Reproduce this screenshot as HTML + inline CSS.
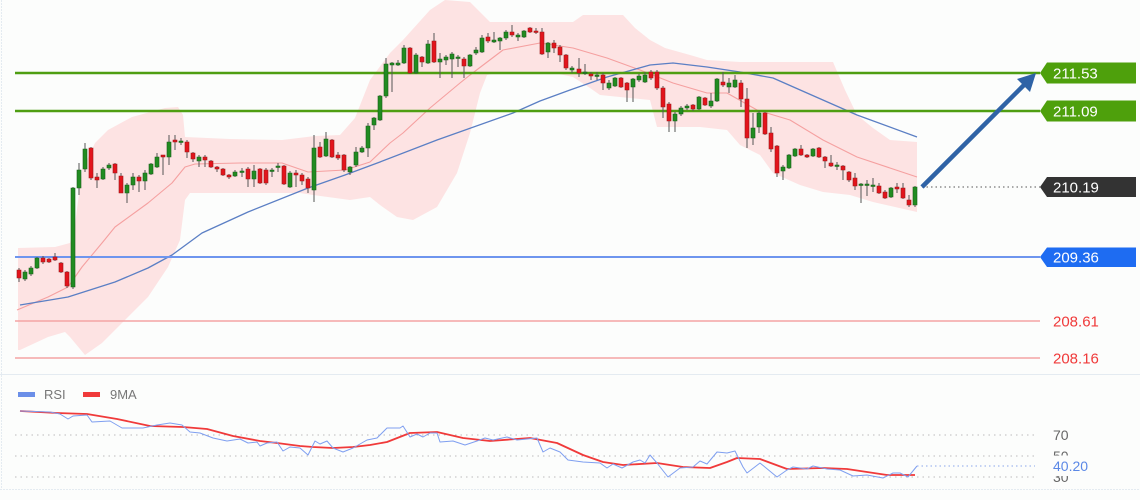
<!DOCTYPE html>
<html><head><meta charset="utf-8"><style>
html,body{margin:0;padding:0;background:#fcfdfc;}
svg{display:block;font-family:"Liberation Sans",sans-serif;}
</style></head><body>
<svg width="1140" height="500" viewBox="0 0 1140 500" xmlns="http://www.w3.org/2000/svg">
<rect width="1140" height="500" fill="#fcfdfc"/>
<line x1="1.5" y1="0" x2="1.5" y2="489" stroke="#e4ebf1" stroke-width="1" stroke-dasharray="2 1"/>
<line x1="0" y1="374.5" x2="1140" y2="374.5" stroke="#e4ebf1" stroke-width="1"/>
<line x1="0" y1="489.5" x2="1140" y2="489.5" stroke="#e4ebf1" stroke-width="1" stroke-dasharray="2 1"/>

<!-- Bollinger band -->
<polygon fill="#fde3e3" points="18,248 55,247 70,243 75,225 82,170 95,143 108,130 132,117 165,108 178,107 183,115 185,137 230,139 282,140 315,136 340,135 355,118 370,80 390,53 403,40 430,10 445,0 470,2 490,22 573,22 583,15 623,15 635,28 650,40 665,48 690,55 707,60 740,62 833,62 845,90 857,115 873,128 890,140 917,142 917,212 873,202 850,195 823,192 800,185 773,173 760,155 740,145 727,130 700,127 657,127 650,100 600,95 590,88 573,77 550,72 500,72 487,75 480,93 470,133 457,173 437,207 413,220 397,217 380,205 370,197 350,200 313,195 300,193 190,193 185,200 180,240 168,267 148,297 125,320 102,343 85,355 70,337 65,332 48,337 20,350 18,350"/>

<!-- moving averages -->
<polyline fill="none" stroke="#f5a0a0" stroke-width="1.1" stroke-linejoin="round" points="17,310 48,297 68,287 82,267 102,243 115,227 148,203 172,183 185,167 195,164 240,163 282,163 308,172 345,170 370,162 390,143 403,133 430,108 460,83 470,75 503,50 540,43 573,48 607,58 640,70 673,83 707,93 727,93 757,110 790,120 823,140 857,157 917,177"/>
<polyline fill="none" stroke="#5b7fc4" stroke-width="1.3" stroke-linejoin="round" points="20,305 68,297 115,282 148,268 172,255 202,233 248,212 308,188 345,175 380,162 437,140 513,113 540,101 570,90 607,77 650,65 673,63 707,67 740,72 773,78 807,93 857,115 917,137"/>

<!-- level lines -->
<line x1="15" y1="73" x2="1040" y2="73" stroke="#4f9e12" stroke-width="2.5"/>
<line x1="15" y1="111" x2="1040" y2="111" stroke="#4f9e12" stroke-width="2.5"/>
<line x1="15" y1="257" x2="1040" y2="257" stroke="#6e95ee" stroke-width="2"/>
<line x1="15" y1="321" x2="1040" y2="321" stroke="#f4a4a4" stroke-width="1.5"/>
<line x1="15" y1="358" x2="1040" y2="358" stroke="#f4a4a4" stroke-width="1.5"/>
<line x1="922" y1="187" x2="1040" y2="187" stroke="#777" stroke-width="1.2" stroke-dasharray="1.5 3"/>

<!-- candles -->
<path fill="none" stroke="#555" stroke-width="1" d="M19 268V282M25 270V281M31 266V276M37 257V269M43 256V264M49 258V263M55 253V261M61 262V273M67 271V288M73 187V289M79 163V195M85 143V172M91 147V180M97 173V188M103 167V180M109 163V170M115 163V180M121 173V193M127 183V203M133 173V190M139 175V192M145 170V190M151 163V175M157 153V168M163 155V175M169 135V165M175 135V150M181 138V145M187 140V158M193 152V162M199 155V167M205 155V167M211 160V168M217 166V172M223 168V176M229 174V179M235 170V177M242 168V177M248 167V187M254 165V187M260 168V184M266 168V185M272 168V177M278 163V172M284 165V185M290 171V188M296 170V187M302 173V185M308 177V193M314 135V202M320 142V158M326 132V157M332 139V158M338 152V160M344 154V172M350 166V175M356 147V167M362 146V153M368 123V157M374 117V130M380 95V121M386 58V98M392 62V92M398 60V66M404 45V64M410 47V74M416 53V74M422 56V67M428 40V64M434 33V63M440 53V78M446 55V65M452 52V78M458 55V67M464 57V78M470 54V67M476 47V55M482 35V53M488 33V43M494 32V43M500 37V50M506 30V40M512 25V37M518 33V41M524 30V38M530 27V33M536 28V34M542 28V55M548 42V58M554 40V53M560 45V62M566 54V70M572 66V73M579 58V77M585 64V75M591 72V80M597 72V80M603 73V90M609 80V90M615 77V87M621 77V88M627 82V102M633 78V102M639 74V82M645 72V83M651 70V80M657 70V90M663 86V118M669 102V132M675 112V132M681 106V116M687 104V110M693 104V111M699 96V110M705 97V106M711 93V108M717 78V102M723 72V87M729 78V93M735 75V88M741 80V107M747 88V148M753 113V145M759 111V133M765 112V135M771 127V152M777 145V177M783 165V180M789 154V169M795 148V157M801 145V156M807 154V158M813 148V157M819 147V158M825 156V168M831 155V167M837 162V170M843 165V180M849 171V182M855 173V190M861 183V203M867 180V196M873 178V192M879 183V194M885 190V199M891 187V198M897 183V193M903 183V199M909 195V207M915 186V207"/>
<path fill="#218c21" stroke="#1a5e1a" stroke-width="0.6" d="M23 272h4v7h-4z M29 268h4v6h-4z M35 258h4v10h-4z M71 188h4v99h-4z M77 170h4v18h-4z M83 149h4v20h-4z M101 169h4v10h-4z M107 165h4v3h-4z M125 185h4v8h-4z M131 177h4v8h-4z M143 173h4v8h-4z M149 164h4v10h-4z M155 157h4v10h-4z M167 142h4v15h-4z M179 141h4v1.5h-4z M197 157h4v4h-4z M233 172h4v4h-4z M240 171h4v1.5h-4z M252 171h4v8h-4z M270 170h4v1.5h-4z M276 166h4v1.5h-4z M288 173h4v14h-4z M312 148h4v42h-4z M324 139h4v17h-4z M348 167h4v5h-4z M354 152h4v13h-4z M360 148h4v4h-4z M366 126h4v22h-4z M372 118h4v7h-4z M378 96h4v24h-4z M384 64h4v32h-4z M390 63h4v2h-4z M396 63h4v2h-4z M402 48h4v15h-4z M414 55h4v18h-4z M426 44h4v19h-4z M438 59h4v3h-4z M444 57h4v3h-4z M450 54h4v5h-4z M456 57h4v1.5h-4z M468 55h4v11h-4z M474 50h4v3h-4z M480 38h4v14h-4z M492 40h4v2h-4z M498 38h4v3h-4z M504 32h4v6h-4z M516 35h4v2h-4z M522 31h4v6h-4z M546 43h4v9h-4z M570 68h4v2h-4z M583 72h4v1.5h-4z M595 75h4v1.5h-4z M607 83h4v5h-4z M613 78h4v8h-4z M631 79h4v8h-4z M637 76h4v4h-4z M643 75h4v7h-4z M673 114h4v7h-4z M679 108h4v6h-4z M685 106h4v2h-4z M697 97h4v12h-4z M709 101h4v5h-4z M715 79h4v22h-4z M727 83h4v4h-4z M733 80h4v7h-4z M751 128h4v10h-4z M757 113h4v14h-4z M781 167h4v4h-4z M787 155h4v13h-4z M793 149h4v7h-4z M811 149h4v7h-4z M835 165h4v1.5h-4z M859 184h4v1.5h-4z M865 184h4v1.5h-4z M871 185h4v1.5h-4z M889 188h4v9h-4z M913 187h4v18h-4z"/>
<path fill="#e3141c" stroke="#9a1a1a" stroke-width="0.6" d="M17 270h4v8h-4z M41 258h4v4h-4z M47 259h4v3h-4z M53 257h4v3h-4z M59 263h4v9h-4z M65 272h4v14h-4z M89 148h4v30h-4z M95 177h4v3h-4z M113 164h4v9h-4z M119 176h4v17h-4z M137 177h4v4h-4z M161 155h4v2h-4z M173 140h4v2h-4z M185 142h4v10h-4z M191 153h4v6h-4z M203 157h4v3h-4z M209 161h4v6h-4z M215 167h4v2h-4z M221 169h4v6h-4z M227 175h4v2h-4z M246 169h4v10h-4z M258 169h4v14h-4z M264 170h4v13h-4z M282 166h4v18h-4z M294 173h4v2h-4z M300 175h4v6h-4z M306 179h4v9h-4z M318 147h4v10h-4z M330 140h4v17h-4z M336 155h4v3h-4z M342 155h4v15h-4z M408 48h4v25h-4z M420 57h4v5h-4z M432 41h4v21h-4z M462 59h4v7h-4z M486 37h4v4h-4z M510 32h4v3h-4z M528 28h4v4h-4z M534 31h4v1.5h-4z M540 32h4v22h-4z M552 43h4v5h-4z M558 47h4v8h-4z M564 55h4v13h-4z M577 69h4v4h-4z M589 74h4v2h-4z M601 75h4v8h-4z M619 78h4v9h-4z M625 83h4v7h-4z M649 72h4v6h-4z M655 72h4v16h-4z M661 88h4v19h-4z M667 104h4v17h-4z M691 105h4v4h-4z M703 98h4v7h-4z M721 82h4v3h-4z M739 83h4v16h-4z M745 99h4v39h-4z M763 113h4v21h-4z M769 133h4v16h-4z M775 146h4v27h-4z M799 149h4v6h-4z M805 155h4v2h-4z M817 148h4v9h-4z M823 157h4v4h-4z M829 163h4v3h-4z M841 166h4v4h-4z M847 172h4v8h-4z M853 178h4v8h-4z M877 186h4v7h-4z M883 192h4v6h-4z M895 187h4v2h-4z M901 188h4v10h-4z M907 200h4v5h-4z"/>

<!-- arrow -->
<line x1="922" y1="187" x2="1024" y2="85" stroke="#2f63a6" stroke-width="4.5"/>
<polygon fill="#2f63a6" points="1036,73 1030,92 1017,79"/>

<!-- price labels -->
<polygon fill="#4ea00c" points="1040,73 1047,62.5 1136,62.5 1136,83.5 1047,83.5"/>
<text x="1053" y="78.5" font-size="15" fill="#fff">211.53</text>
<polygon fill="#4ea00c" points="1040,111 1047,100.5 1136,100.5 1136,121.5 1047,121.5"/>
<text x="1053" y="116.5" font-size="15" fill="#fff">211.09</text>
<polygon fill="#333333" points="1040,187 1047,177 1136,177 1136,197 1047,197"/>
<text x="1053" y="192.5" font-size="15" fill="#fff">210.19</text>
<polygon fill="#1e6cf2" points="1040,257 1047,247.5 1136,247.5 1136,267 1047,267"/>
<text x="1053" y="262.5" font-size="15" fill="#fff">209.36</text>
<text x="1053" y="326.5" font-size="15" fill="#f03a3a">208.61</text>
<text x="1053" y="363.5" font-size="15" fill="#f03a3a">208.16</text>

<!-- RSI panel -->
<rect x="18" y="392" width="17" height="5" fill="#6b8fe8"/>
<text x="44" y="399" font-size="13" fill="#777">RSI</text>
<rect x="83" y="392" width="17" height="5" fill="#f03a3a"/>
<text x="110" y="399" font-size="13" fill="#777">9MA</text>

<line x1="15" y1="435" x2="1035" y2="435" stroke="#bbb" stroke-width="1" stroke-dasharray="1.5 4"/>
<line x1="15" y1="456" x2="1035" y2="456" stroke="#bbb" stroke-width="1" stroke-dasharray="1.5 4"/>
<line x1="15" y1="477" x2="1035" y2="477" stroke="#bbb" stroke-width="1" stroke-dasharray="1.5 4"/>
<line x1="917" y1="466" x2="1035" y2="466" stroke="#8aa6ea" stroke-width="1" stroke-dasharray="1.5 3"/>

<polyline fill="none" stroke="#f03a3a" stroke-width="1.8" stroke-linejoin="round" points="20,411 57,413 87,414 117,419 150,426 183,427 207,429 233,436 260,441 277,443 300,446 313,447 333,448 353,447 370,445 387,442 410,433 437,432 463,438 490,441 530,438 557,443 583,455 603,462 623,465 657,463 683,467 710,468 727,462 737,458 760,459 787,469 823,468 847,469 887,475 915,475"/>
<polyline fill="none" stroke="#7f9ff0" stroke-width="1" stroke-linejoin="round" points="20,411 50,412 60,414 68,419 73,416 87,415 92,422 110,421 122,428 143,428 157,425 170,423 182,425 190,432 200,433 213,438 227,441 240,439 248,443 257,442 260,446 267,443 277,442 283,451 290,447 300,448 308,455 315,441 320,444 327,441 333,448 343,452 353,448 367,440 377,438 387,428 400,428 403,426 410,437 417,434 423,437 430,433 437,433 440,442 453,441 465,445 477,441 485,438 493,440 507,437 517,440 537,438 543,452 550,448 560,452 568,460 583,462 600,463 607,468 613,464 622,468 633,462 640,460 645,463 650,455 657,463 668,477 680,468 693,467 700,461 707,464 717,452 727,453 735,451 743,467 747,473 760,463 777,477 787,470 793,467 807,469 813,466 827,469 840,470 853,476 867,475 883,478 893,473 900,473 908,477 917,466"/>

<text x="1053" y="440" font-size="14" fill="#666">70</text>
<text x="1053" y="461" font-size="14" fill="#666">50</text>
<text x="1053" y="482" font-size="14" fill="#666">30</text>
<rect x="1048" y="455.5" width="60" height="20.5" fill="#fcfdfc"/>
<text x="1053" y="471" font-size="14" fill="#5b88e6">40.20</text>
</svg>
</body></html>
